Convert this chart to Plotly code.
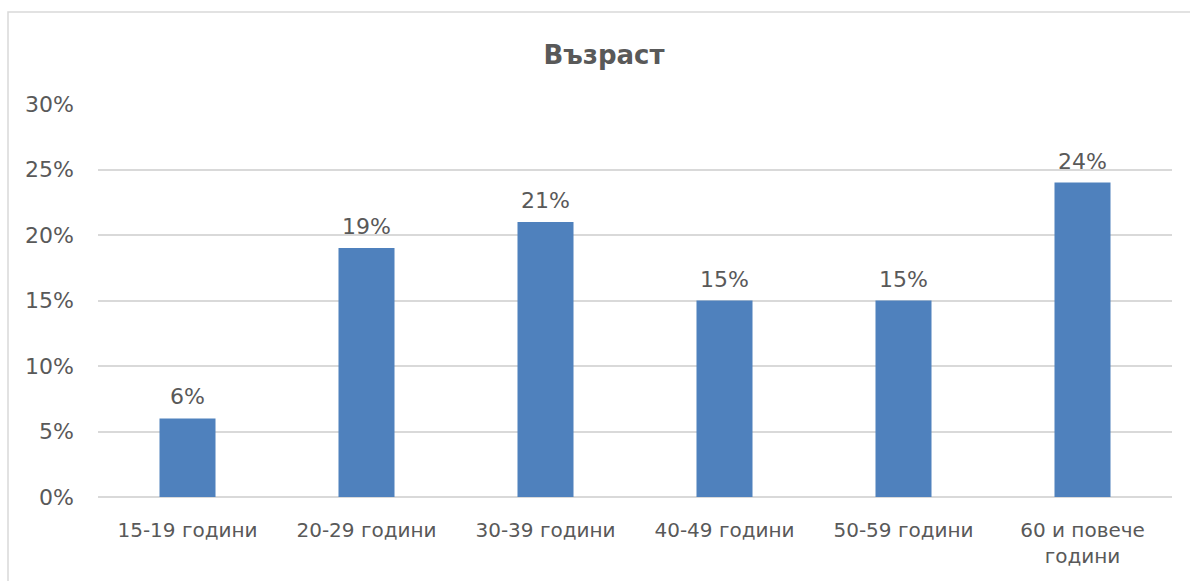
import plotly.graph_objects as go

categories = ["15-19 години", "20-29 години", "30-39 години", "40-49 години",
              "50-59 години", "60 и повече<br>години"]
values = [6, 19, 21, 15, 15, 24]
tick_vals = [0, 5, 10, 15, 20, 25, 30]
tick_text = ["0%", "5%", "10%", "15%", "20%", "25%", "30%"]

font_family = "'DejaVu Sans', sans-serif"
grey = "#595959"

fig = go.Figure(
    go.Bar(
        x=categories,
        y=values,
        marker=dict(color="#4F81BD", line=dict(width=0)),
        width=0.313,
        hoverinfo="skip",
    )
)

# value labels above each bar
for cat, v in zip(categories, values):
    fig.add_annotation(
        x=cat, y=v, xref="x", yref="y",
        text=f"{v}%",
        showarrow=False,
        yanchor="bottom",
        yshift=7,
        font=dict(size=22, color=grey, family=font_family),
    )

fig.update_layout(
    width=1190,
    height=581,
    margin=dict(l=98, r=18, t=104, b=84),
    paper_bgcolor="white",
    plot_bgcolor="white",
    showlegend=False,
    title=dict(
        text="Възраст",
        x=604 / 1190,
        xanchor="center",
        y=1 - 55 / 581,
        yanchor="middle",
        font=dict(size=26, color=grey, family=font_family, weight="bold"),
    ),
    xaxis=dict(
        showgrid=False,
        showline=False,
        ticks="",
        ticklabelstandoff=19,
        tickfont=dict(size=20, color=grey, family=font_family),
        fixedrange=True,
    ),
    yaxis=dict(
        range=[0, 30],
        tickvals=tick_vals,
        ticktext=tick_text,
        showgrid=True,
        gridcolor="#D9D9D9",
        gridwidth=1.5,
        zeroline=True,
        zerolinecolor="#D9D9D9",
        zerolinewidth=1.5,
        showline=False,
        ticks="",
        ticklabelstandoff=23,
        tickfont=dict(size=22, color=grey, family=font_family),
        fixedrange=True,
    ),
    shapes=[
        dict(
            type="rect",
            xref="paper",
            yref="paper",
            x0=(8 - 98) / 1074,
            x1=(1210 - 98) / 1074,
            y0=(497 - 620) / 393,
            y1=(497 - 12) / 393,
            line=dict(color="#D9D9D9", width=1.5),
            fillcolor="rgba(0,0,0,0)",
            layer="below",
        )
    ],
)

fig.write_html("out.html")
